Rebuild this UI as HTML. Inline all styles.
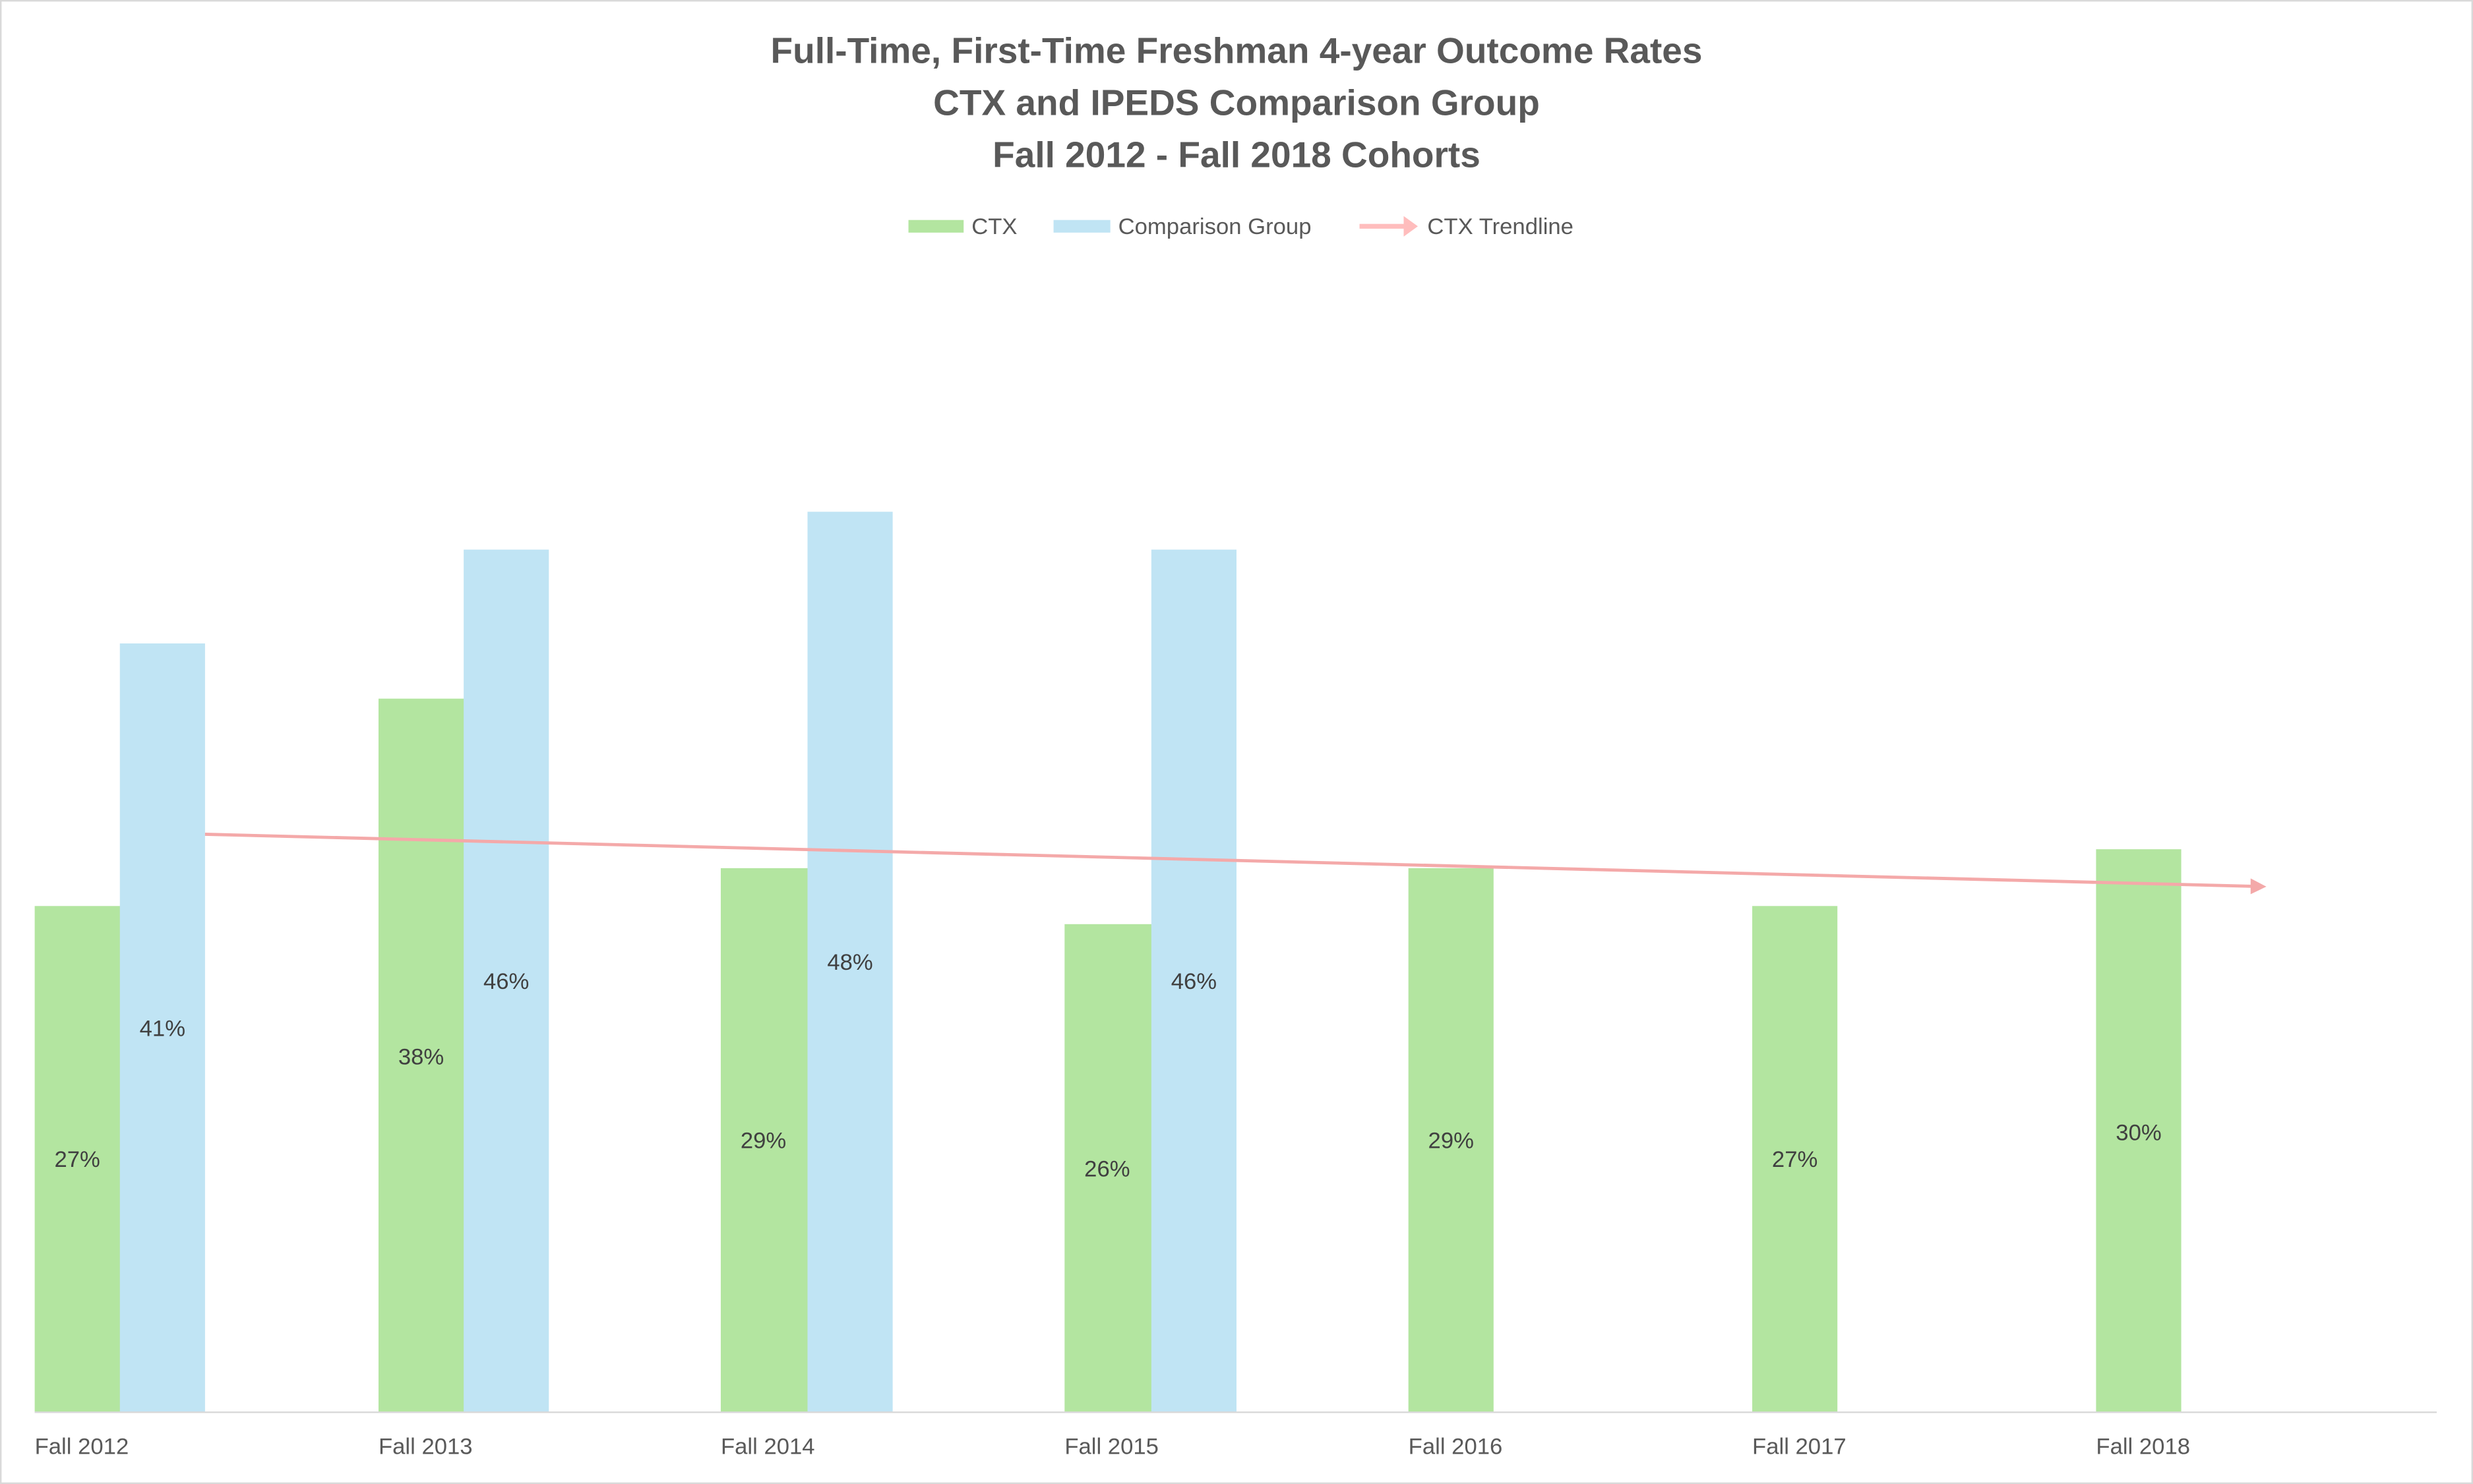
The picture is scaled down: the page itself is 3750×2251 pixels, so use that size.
<!DOCTYPE html>
<html><head><meta charset="utf-8"><style>html,body{margin:0;padding:0;background:#fff}svg{display:block}</style></head>
<body>
<svg width="3750" height="2251" viewBox="0 0 1568 941" preserveAspectRatio="none" xmlns="http://www.w3.org/2000/svg" font-family="Liberation Sans, sans-serif">
<rect x="0.5" y="0.5" width="1567" height="940" fill="#fff" stroke="#d9d9d9" stroke-width="1"/>
<g fill="#595959" font-weight="bold" font-size="23" text-anchor="middle">
<text x="784" y="40">Full-Time, First-Time Freshman 4-year Outcome Rates</text>
<text x="784" y="73">CTX and IPEDS Comparison Group</text>
<text x="784" y="106">Fall 2012 - Fall 2018 Cohorts</text>
</g>
<g font-size="14.5" fill="#595959">
<rect x="576" y="139.5" width="35" height="8" fill="#b3e5a0"/><text x="616" y="148.5">CTX</text>
<rect x="668" y="139.5" width="36" height="8" fill="#c0e4f4"/><text x="709" y="148.5">Comparison Group</text>
<line x1="862" y1="143.5" x2="892" y2="143.5" stroke="#ffbdbd" stroke-width="3"/><polygon points="890,137 899,143.5 890,150" fill="#ffbdbd"/><text x="905" y="148.5">CTX Trendline</text>
</g>
<g fill="#b3e5a0">
<rect x="22" y="574.5" width="55" height="321"/>
<rect x="240" y="443" width="55" height="452"/>
<rect x="457" y="550.5" width="56" height="345"/>
<rect x="675" y="586" width="56" height="309"/>
<rect x="893" y="550.5" width="54" height="345"/>
<rect x="1111" y="574.5" width="54" height="321"/>
<rect x="1329" y="538.5" width="54" height="357"/>
</g>
<g fill="#c0e4f4">
<rect x="76" y="408" width="54" height="487"/>
<rect x="294" y="348.5" width="54" height="546.5"/>
<rect x="512" y="324.5" width="54" height="570.5"/>
<rect x="730" y="348.5" width="54" height="546.5"/>
</g>
<line x1="22" y1="895.5" x2="1545" y2="895.5" stroke="#d9d9d9" stroke-width="1"/>
<line x1="130" y1="529" x2="1428" y2="562" stroke="#f4a9a9" stroke-width="2"/>
<polygon points="1427,557 1437,562.2 1427,567" fill="#f4a9a9"/>
<g font-size="14.5" fill="#404040" text-anchor="middle">
<text x="49" y="740">27%</text><text x="103" y="657">41%</text>
<text x="267" y="675">38%</text><text x="321" y="627">46%</text>
<text x="484" y="728">29%</text><text x="539" y="615">48%</text>
<text x="702" y="746">26%</text><text x="757" y="627">46%</text>
<text x="920" y="728">29%</text>
<text x="1138" y="740">27%</text>
<text x="1356" y="723">30%</text>
</g>
<g font-size="14.5" fill="#595959">
<text x="22" y="922">Fall 2012</text><text x="240" y="922">Fall 2013</text><text x="457" y="922">Fall 2014</text><text x="675" y="922">Fall 2015</text><text x="893" y="922">Fall 2016</text><text x="1111" y="922">Fall 2017</text><text x="1329" y="922">Fall 2018</text>
</g>
</svg>
</body></html>
